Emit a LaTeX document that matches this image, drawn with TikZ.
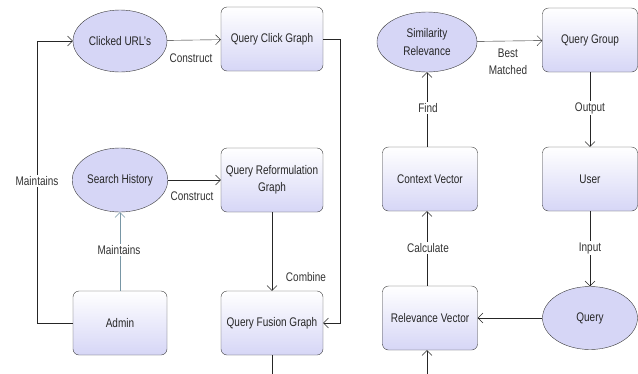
\documentclass[tikz,border=0pt]{standalone}
\usepackage{fontspec}
\setmainfont{Liberation Sans}[FakeStretch=0.8]
\usetikzlibrary{arrows.meta,shapes.geometric}
\definecolor{lav}{RGB}{214,214,246}
\definecolor{edgegray}{RGB}{60,60,60}
\definecolor{maintblue}{RGB}{120,150,165}
\tikzset{
	box/.style={draw=edgegray, rounded corners=6pt, top color=white, bottom color=lav, minimum width=102pt, minimum height=64pt, inner sep=2pt, align=center, text=black!85, font=\fontsize{12.5}{17.5}\selectfont},
	oval/.style={ellipse, draw=edgegray, fill=lav, minimum width=94pt, minimum height=62pt, inner sep=1pt, align=center, text=black!85, font=\fontsize{12.5}{17.5}\selectfont},
	conn/.style={draw=black!85, -{Straight Barb[length=5pt,width=10pt]}},
	lbl/.style={fill=white, inner sep=1pt, align=center, text=black!80, font=\fontsize{12.5}{17.5}\selectfont}
}

\begin{document}
\begin{tikzpicture}[x=1pt, y=-1pt]
			%%%%% START %%%%%
			\useasboundingbox (0, 0) rectangle (638, 373);
			
			% left part
			\node[oval] (curl) at (120, 41) {Clicked URL's};
			\node[box] (qcg) at (272, 39) {Query Click Graph};
			\node[oval, minimum height=64pt] (shist) at (120, 180) {Search History};
			\node[box] (qrg) at (272, 180) {Query Reformulation\\Graph};
			\node[box, minimum width=94pt] (admin) at (120, 323) {Admin};
			\node[box] (qfg) at (272, 323) {Query Fusion Graph};
			
			\coordinate (lft) at (37, 0);
			\coordinate (rgt) at (340, 0);
			
			\draw[conn] (curl) -- (qcg);
			\node[lbl] (c1) at (191, 58) {Construct};
			\draw[conn] (shist) -- (qrg);
			\node[lbl] (c2) at (192, 196) {Construct};
			\draw[conn, draw=maintblue] (admin) -- (shist);
			\node[lbl] (m2) at (119, 250) {Maintains};
			\draw[conn] (admin.west) -| (lft |- curl.west) -- (curl.west);
			\node[lbl] (m1) at (37, 181) {Maintains};
			\draw[conn] (qrg) -- (qfg);
			\node[lbl] (cb) at (306, 277) {Combine};
			\draw[conn] (qcg.east) -| (rgt |- qfg.east) -- (qfg.east);
			
			% right part
			\node[oval, minimum width=100pt, minimum height=60pt] (simrel) at (427, 42) {Similarity\\Relevance};
			\node[box, minimum width=95pt] (qgroup) at (590, 40) {Query Group};
			\node[box, minimum width=95pt] (cvec) at (430, 179) {Context Vector};
			\node[box, minimum width=95pt] (user) at (590, 179) {User};
			\node[box, minimum width=95pt] (rvec) at (430, 318) {Relevance Vector};
			\node[oval, minimum width=95pt, minimum height=63pt] (query) at (590, 318) {Query};
			
			\draw[conn] (simrel) -- (qgroup);
			\node[lbl] (bm) at (508, 62) {Best\\Matched};
			\draw[conn] (qgroup) -- (user);
			\node[lbl] (out) at (590, 108) {Output};
			\draw[conn] (cvec.north -| simrel.south) -- (simrel.south);
			\node[lbl] (fd) at (428, 108) {Find};
			\draw[conn] (rvec.north -| simrel.south) -- (cvec.south -| simrel.south);
			\node[lbl] (calc) at (428, 248) {Calculate};
			\draw[conn] (user) -- (query);
			\node[lbl] (inp) at (590, 248) {Input};
			\draw[conn] (query) -- (rvec);
			
			% fusion graph down to relevance vector
			\draw[conn] (qfg.south) -- ++(0, 25) -| (rvec.south -| simrel.south);
			%%%%% END %%%%%
\end{tikzpicture}
\end{document}
